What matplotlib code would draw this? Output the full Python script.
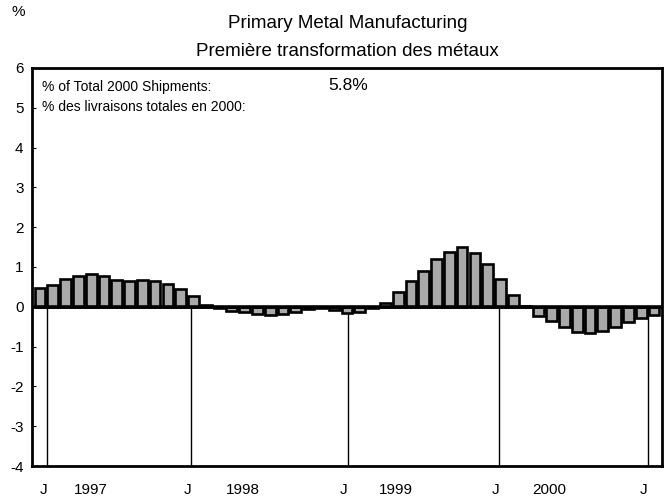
import matplotlib.pyplot as plt
from matplotlib.transforms import blended_transform_factory
import numpy as np

plt.rcParams['font.family'] = ['Liberation Sans', 'DejaVu Sans']

# monthly bars, Dec 1996 .. Dec 2000
months = [f"{y}-{m:02d}" for y, m in [(1996, 12)] + [(y, m) for y in range(1997, 2001) for m in range(1, 13)]]
values = [0.46,
          0.55, 0.69, 0.78, 0.83, 0.77, 0.68, 0.66, 0.67, 0.65, 0.58, 0.45, 0.28,
          0.05, -0.04, -0.10, -0.12, -0.17, -0.20, -0.18, -0.12, -0.05, -0.03, -0.07, -0.16,
          -0.12, -0.04, 0.10, 0.37, 0.64, 0.90, 1.20, 1.38, 1.49, 1.36, 1.07, 0.69,
          0.30, 0.02, -0.22, -0.36, -0.52, -0.63, -0.67, -0.60, -0.50, -0.38, -0.28, -0.20]
jan_pos = [0.55, 11.8, 24.05, 35.9, 47.5]
years = ["1997", "1998", "1999", "2000"]
year_pos = [4.0, 15.9, 27.8, 39.8]
yticks = [6, 5, 4, 3, 2, 1, 0, -1, -2, -3, -4]

fig = plt.figure(figsize=(6.65, 5.0), dpi=100)
ax = fig.add_axes([0.048, 0.068, 0.947, 0.796])

x = np.arange(len(months))
ax.bar(x, values, width=0.84, color='#a9a9a9', edgecolor='black', linewidth=1.9, zorder=3)
ax.axhline(0, color='black', lw=2.6, zorder=4)
for p in jan_pos:
    ax.plot([p, p], [0, -4], color='black', lw=1.0, zorder=2)

ax.set_xlim(-0.63, 48.6)
ax.set_ylim(-4, 6)
ax.set_yticks(yticks)
ax.set_yticklabels([str(t) for t in yticks], fontsize=11)
ax.set_xticks([])
ax.tick_params(axis='y', direction='in', length=3, width=0.8, pad=6)
for s in ax.spines.values():
    s.set_linewidth(2.0)

tr = blended_transform_factory(ax.transData, fig.transFigure)
for p in jan_pos:
    ax.text(p - 0.3, 0.02, "J", transform=tr, ha='center', va='center', fontsize=11)
for p, yl in zip(year_pos, years):
    ax.text(p, 0.02, yl, transform=tr, ha='center', va='center', fontsize=11)

fig.text(0.018, 0.975, "%", ha='left', va='center', fontsize=11)
fig.text(0.523, 0.952, "Primary Metal Manufacturing", ha='center', va='center', fontsize=13.5)
fig.text(0.523, 0.898, "Première transformation des métaux", ha='center', va='center', fontsize=13.5)

ax.text(0.063, 0.826, "% of Total 2000 Shipments:", transform=fig.transFigure,
        ha='left', va='center', fontsize=10)
ax.text(0.493, 0.829, "5.8%", transform=fig.transFigure, ha='left', va='center', fontsize=12.5)
ax.text(0.063, 0.786, "% des livraisons totales en 2000:", transform=fig.transFigure,
        ha='left', va='center', fontsize=10)

plt.savefig("out.png", dpi=100)
